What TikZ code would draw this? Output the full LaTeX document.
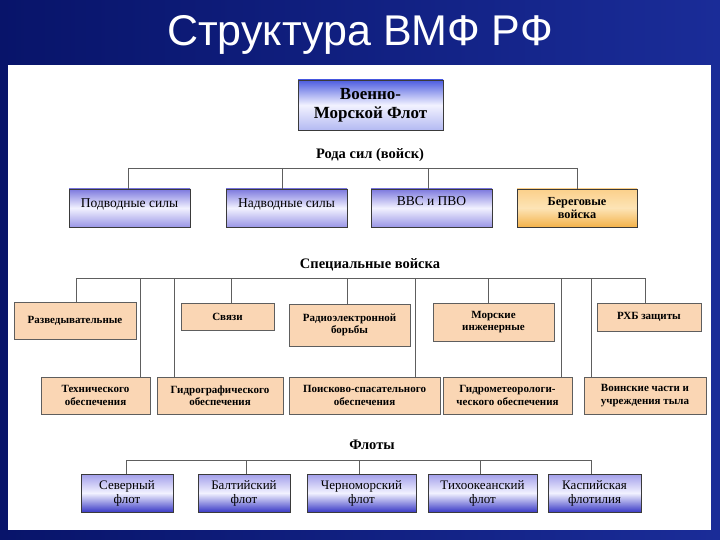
\documentclass[tikz,border=0pt]{standalone}
\usepackage{fontspec}
\setmainfont{Liberation Serif}
\newfontfamily\titlefont{Liberation Sans}
\definecolor{bgL}{HTML}{08146A}
\definecolor{bgR}{HTML}{1A2C98}
\definecolor{linec}{HTML}{5E5E5E}
\definecolor{bord}{HTML}{3A3A3A}
\definecolor{peach}{HTML}{FAD6B4}
\definecolor{btop}{HTML}{7C78DE}
\definecolor{bmid}{HTML}{F2F2FF}
\definecolor{bbot}{HTML}{9A96E6}
\definecolor{ttop}{HTML}{4C5CE0}
\definecolor{tbot}{HTML}{B4BAF2}
\definecolor{ftop}{HTML}{A29EEA}
\definecolor{fbot}{HTML}{3A3AC6}
\definecolor{otop}{HTML}{FBD08A}
\definecolor{omid}{HTML}{FDE4B6}
\definecolor{obot}{HTML}{F3B24A}
\begin{document}
\begin{tikzpicture}[x=1pt,y=-1pt,
  conn/.style={draw=linec, line width=0.9pt},
  boxbase/.style={draw=bord, line width=0.8pt, inner sep=1pt, align=center},
  topbox/.style={boxbase, top color=ttop, bottom color=tbot, middle color=bmid, font=\bfseries\fontsize{17}{19}\selectfont},
  bluebox/.style={boxbase, top color=btop, bottom color=bbot, middle color=bmid, font=\fontsize{13.5}{15}\selectfont},
  orangebox/.style={boxbase, top color=otop, bottom color=obot, middle color=omid, font=\bfseries\fontsize{12.3}{13}\selectfont},
  peachbox/.style={boxbase, draw=linec, fill=peach, font=\bfseries\fontsize{11}{12.3}\selectfont},
  fleetbox/.style={boxbase, top color=ftop, bottom color=fbot, middle color=bmid, font=\fontsize{13}{14}\selectfont},
  grouplabel/.style={font=\bfseries\fontsize{14.5}{16}\selectfont, inner sep=0pt},
  bx/.style 2 args={minimum width=#1pt, minimum height=#2pt}
]
\useasboundingbox (0,0) rectangle (720,540);
% background
\shade[left color=bgL, right color=bgR] (0,0) rectangle (720,540);
\fill[white] (8,65) rectangle (711,530);
\node[font=\titlefont\fontsize{43}{47}\selectfont, text=white] (title) at (360,35) {Структура ВМФ РФ};

% top
\node[topbox, bx={145}{50}] (vmf) at (370.5,105) {Военно-\\Морской Флот};

% row 1
\node[grouplabel] (rody) at (370,155) {Рода сил (войск)};
\node[bluebox, bx={121}{38}] (pod) at (129.5,208) {\raisebox{4pt}[0.7em][0.2em]{Подводные силы}};
\node[bluebox, bx={121}{38}] (nad) at (286.5,208) {\raisebox{4pt}[0.7em][0.2em]{Надводные силы}};
\node[bluebox, bx={121}{38}] (vvs) at (431.5,208) {\raisebox{6pt}[0.7em][0.2em]{ВВС и ПВО}};
\node[orangebox, bx={120}{38}] (ber) at (577,208) {Береговые\\войска};
\coordinate (b1L) at (128,168);
\coordinate (b1B) at (282,168);
\coordinate (b1C) at (428,168);
\coordinate (b1R) at (577,168);
\draw[conn] (b1L) -- (b1R);
\draw[conn] (b1L) -- (b1L |- pod.north);
\draw[conn] (b1B) -- (b1B |- nad.north);
\draw[conn] (b1C) -- (b1C |- vvs.north);
\draw[conn] (b1R) -- (b1R |- ber.north);

% row 2
\node[grouplabel] (spec) at (370,265) {Специальные войска};
\node[peachbox, bx={122}{37}] (razv) at (75,320.5) {Разведывательные};
\node[peachbox, bx={93}{27}] (svyaz) at (227.5,316.5) {Связи};
\node[peachbox, bx={121}{42}] (radio) at (349.5,325) {Радиоэлектронной\\борьбы};
\node[peachbox, bx={121}{38}] (morsk) at (493.5,322) {Морские\\инженерные};
\node[peachbox, bx={104}{28}] (rhb) at (649,317) {РХБ защиты};
\node[peachbox, bx={109}{37}] (tech) at (95.5,395.5) {Технического\\обеспечения};
\node[peachbox, bx={126}{37}] (gidrogr) at (220,395.5) {Гидрографического\\обеспечения};
\node[peachbox, bx={151}{37}] (poisk) at (364.5,395.5) {Поисково-спасательного\\обеспечения};
\node[peachbox, bx={129}{37}] (gidromet) at (507.5,395.5) {Гидрометеорологи-\\ческого обеспечения};
\node[peachbox, bx={122}{37}] (voin) at (645,395.5) {Воинские части и\\учреждения тыла};
\coordinate (b2a) at (76,278);
\coordinate (b2b) at (140,278);
\coordinate (b2c) at (174,278);
\coordinate (b2d) at (231,278);
\coordinate (b2e) at (347,278);
\coordinate (b2f) at (415,278);
\coordinate (b2g) at (488,278);
\coordinate (b2h) at (561,278);
\coordinate (b2i) at (591,278);
\coordinate (b2j) at (645,278);
\draw[conn] (b2a) -- (b2j);
\draw[conn] (b2a) -- (b2a |- razv.north);
\draw[conn] (b2b) -- (b2b |- tech.north);
\draw[conn] (b2c) -- (b2c |- gidrogr.north);
\draw[conn] (b2d) -- (b2d |- svyaz.north);
\draw[conn] (b2e) -- (b2e |- radio.north);
\draw[conn] (b2f) -- (b2f |- poisk.north);
\draw[conn] (b2g) -- (b2g |- morsk.north);
\draw[conn] (b2h) -- (b2h |- gidromet.north);
\draw[conn] (b2i) -- (b2i |- voin.north);
\draw[conn] (b2j) -- (b2j |- rhb.north);

% fleets
\node[grouplabel] (floty) at (372,445) {Флоты};
\node[fleetbox, bx={92}{38}] (sev) at (127,493) {Северный\\флот};
\node[fleetbox, bx={92}{38}] (balt) at (244,493) {Балтийский\\флот};
\node[fleetbox, bx={109}{38}] (cherno) at (361.5,493) {Черноморский\\флот};
\node[fleetbox, bx={109}{38}] (tiho) at (482.5,493) {Тихоокеанский\\флот};
\node[fleetbox, bx={93}{38}] (kasp) at (594.5,493) {Каспийская\\флотилия};
\coordinate (b3a) at (126,460);
\coordinate (b3b) at (246,460);
\coordinate (b3c) at (359,460);
\coordinate (b3d) at (480,460);
\coordinate (b3e) at (591,460);
\draw[conn] (b3a) -- (b3e);
\draw[conn] (b3a) -- (b3a |- sev.north);
\draw[conn] (b3b) -- (b3b |- balt.north);
\draw[conn] (b3c) -- (b3c |- cherno.north);
\draw[conn] (b3d) -- (b3d |- tiho.north);
\draw[conn] (b3e) -- (b3e |- kasp.north);
\end{tikzpicture}
\end{document}
